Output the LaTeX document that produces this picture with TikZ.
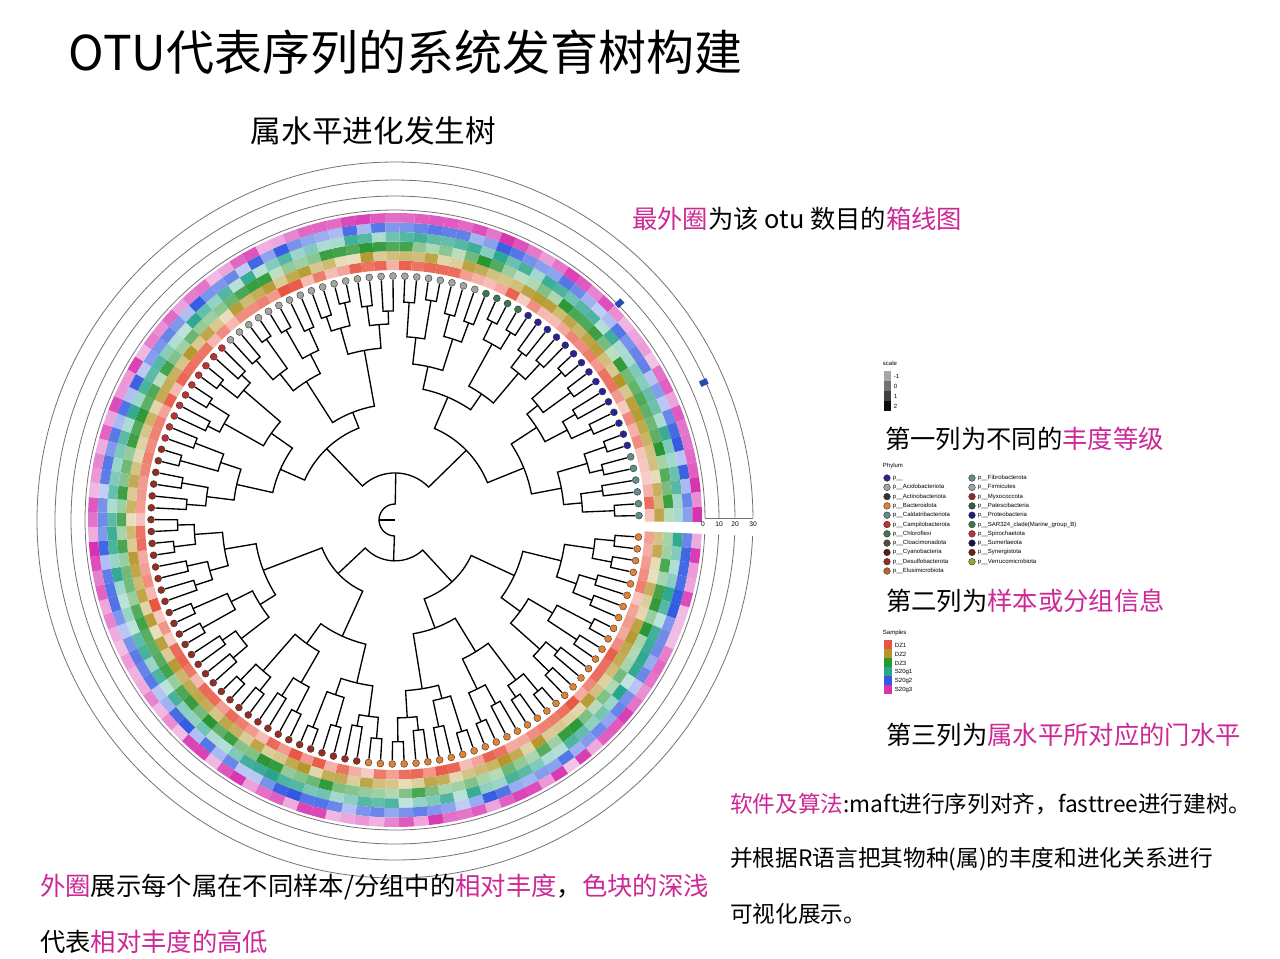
\documentclass[tikz,border=0pt]{standalone}
\usepackage{fontspec}
\newfontfamily\cjk{Noto Sans CJK SC}
\setsansfont{Liberation Sans}
\definecolor{mag}{RGB}{205,40,150}
\definecolor{dzone}{RGB}{232,85,65}
\definecolor{dztwo}{RGB}{180,150,40}
\definecolor{dzthree}{RGB}{40,150,50}
\definecolor{sgone}{RGB}{40,165,140}
\definecolor{sgtwo}{RGB}{50,90,225}
\definecolor{sgthree}{RGB}{215,50,175}
\definecolor{phorange}{RGB}{225,130,50}
\definecolor{phbrown}{RGB}{150,45,35}
\definecolor{phred}{RGB}{190,50,50}
\definecolor{phgray}{RGB}{165,165,160}
\definecolor{phgreen}{RGB}{60,120,80}
\definecolor{phnavy}{RGB}{40,35,150}
\definecolor{phteal}{RGB}{100,140,140}
\tikzset{
  tree line/.style={line width=1pt,black},
  leaf dot/.style={circle,draw=black!80,line width=0.3pt,inner sep=0pt,minimum size=5.2pt},
  scale ring/.style={draw=black!55,line width=0.6pt},
  note/.style={font=\cjk\fontsize{19}{21}\selectfont,anchor=west,inner sep=0pt},
  small note/.style={font=\cjk\fontsize{17}{19}\selectfont,anchor=west,inner sep=0pt},
  legend txt/.style={font=\sffamily\fontsize{4.5}{5}\selectfont,anchor=west,inner sep=0.5pt},
}
\newcommand{\leafcolor}[1]{%
  \ifnum#1<34 \def\lc{phorange}\else
  \ifnum#1<70 \def\lc{phbrown}\else
  \ifnum#1<80 \def\lc{phred}\else
  \ifnum#1<103 \def\lc{phgray}\else
  \ifnum#1<107 \def\lc{phgreen}\else
  \ifnum#1<122 \def\lc{phnavy}\else
  \def\lc{phteal}\fi\fi\fi\fi\fi\fi}
\begin{document}
\begin{tikzpicture}[x=0.75pt,y=-0.75pt]
\useasboundingbox[fill=white] (0,0) rectangle (1280,958);
\pgfmathsetseed{11}

% titles
\node[font=\cjk\fontsize{36}{38}\selectfont,anchor=west] (title) at (64,52) {OTU代表序列的系统发育树构建};
\node[font=\cjk\fontsize{23}{25}\selectfont,anchor=west] (subtitle) at (246,131) {属水平进化发生树};

\begin{scope}[shift={(395,520)}]
  % heatmap rings
  \foreach \col [count=\c from 0] in {dzone,dztwo,dzthree,sgone,sgtwo,sgthree} {
    \pgfmathsetmacro\ra{250+\c*9.5}
    \pgfmathsetmacro\rb{\ra+9.5}
    \foreach \j in {0,...,127} {
      \pgfmathsetmacro\a{4+\j*2.795}
      \pgfmathrandominteger\p{30}{100}
      \fill[\col!\p!white] (\a-1.4:\ra) arc[start angle=\a-1.4,end angle=\a+1.4,radius=\ra]
        -- (\a+1.4:\rb) arc[start angle=\a+1.4,end angle=\a-1.4,radius=\rb] -- cycle;
    }
  }
  % boxplot scale rings
  \foreach \r in {310,324,340,358}
    \draw[scale ring] (2.6:\r) arc[start angle=2.6,end angle=359.6,radius=\r];
  \draw[scale ring] (310,-2) -- (358,-2);
  \node[font=\sffamily\fontsize{5}{5}\selectfont] (t0) at (308,4) {0};
  \node[font=\sffamily\fontsize{5}{5}\selectfont] (t10) at (324,4) {10};
  \node[font=\sffamily\fontsize{5}{5}\selectfont] (t20) at (340,4) {20};
  \node[font=\sffamily\fontsize{5}{5}\selectfont] (t30) at (358,4) {30};
  \fill[sgtwo!80!black,rotate=44] (308,-3) rectangle (316,3);
  \fill[sgtwo!80!black,rotate=24] (334,-3) rectangle (342,3);
  % tree
  \foreach \k in {1,...,7} {
    \pgfmathtruncatemacro\n{128/2^\k-1}
    \foreach \i in {0,...,\n} {
      \pgfmathtruncatemacro\km{\k-1}
      \pgfmathtruncatemacro\ia{2*\i}
      \pgfmathtruncatemacro\ib{2*\i+1}
      \pgfmathsetmacro\rp{{240,216,192,162,128,90,50,16}[\k]+{0,7,9,11,13,14,10,0}[\k]*sin(97*\i+41*\k)}
      \pgfmathsetmacro\ra{{240,216,192,162,128,90,50,16}[\km]+{0,7,9,11,13,14,10,0}[\km]*sin(97*\ia+41*\km)}
      \pgfmathsetmacro\rb{{240,216,192,162,128,90,50,16}[\km]+{0,7,9,11,13,14,10,0}[\km]*sin(97*\ib+41*\km)}
      \pgfmathsetmacro\aa{4+(\ia*2^\km+(2^\km-1)/2)*2.795}
      \pgfmathsetmacro\ab{4+(\ib*2^\km+(2^\km-1)/2)*2.795}
      \draw[tree line] (\aa:\ra) -- (\aa:\rp) arc[start angle=\aa,end angle=\ab,radius=\rp] -- (\ab:\rb);
    }
  }
  \draw[tree line] (180:16) -- (0:0);
  % leaf dots
  \foreach \j in {0,...,127} {
    \leafcolor{\j}
    \pgfmathsetmacro\a{4+\j*2.795}
    \node[leaf dot,fill=\lc] (leaf\j) at (\a:244) {};
  }
\end{scope}

% scale legend
\node[legend txt] (scalehead) at (882,363) {scale};
\foreach \g [count=\s from 0] in {-1,0,1,2} {
  \pgfmathsetmacro\sh{35+\s*20}
  \fill[black!\sh] (884,371+\s*10) rectangle (891,381+\s*10);
  \node[legend txt] (scale\s) at (893,376+\s*10) {\g};
}
\node[note] (note1) at (885,439) {第一列为不同的\textcolor{mag}{丰度等级}};

% phylum legend
\node[legend txt] (phyhead) at (882,466) {Phylum};
\foreach \lab/\col [count=\q from 0] in {p\_\_/phnavy,p\_\_Acidobacteriota/phgray,p\_\_Actinobacteriota/black!80,p\_\_Bacteroidota/phorange,p\_\_Caldatribacteriota/phteal,p\_\_Campilobacterota/phred,p\_\_Chloroflexi/phgreen,p\_\_Cloacimonadota/black!70,p\_\_Cyanobacteria/phbrown!60!black,p\_\_Desulfobacterota/phbrown,p\_\_Elusimicrobiota/phorange!80!black} {
  \node[leaf dot,fill=\col,minimum size=5pt] (phl\q) at (887,478+\q*9.3) {};
  \node[legend txt] (phlt\q) at (892,478+\q*9.3) {\lab};
}
\foreach \lab/\col [count=\q from 0] in {p\_\_Fibrobacterota/phteal,p\_\_Firmicutes/phgray,p\_\_Myxococcota/phred!80!black,p\_\_Patescibacteria/phgreen!80!black,p\_\_Proteobacteria/phnavy!80!black,p\_\_SAR324\_clade(Marine\_group\_B)/phgreen,p\_\_Spirochaetota/phred,p\_\_Sumerlaeota/phnavy!50!black,p\_\_Synergistota/phred!60!black,p\_\_Verrucomicrobiota/phgreen!60!yellow} {
  \node[leaf dot,fill=\col,minimum size=5pt] (phr\q) at (972,478+\q*9.3) {};
  \node[legend txt] (phrt\q) at (977,478+\q*9.3) {\lab};
}
\node[note] (note2) at (886,601) {第二列为\textcolor{mag}{样本或分组信息}};

% samples legend
\node[legend txt] (samphead) at (882,633) {Samples};
\foreach \lab/\col [count=\q from 0] in {DZ1/dzone,DZ2/dztwo,DZ3/dzthree,S20g1/sgone,S20g2/sgtwo,S20g3/sgthree} {
  \fill[\col] (884,640+\q*9) rectangle (892,649+\q*9);
  \node[legend txt] (samp\q) at (894,645+\q*9) {\lab};
}
\node[note] (note3) at (886,735) {第三列为\textcolor{mag}{属水平所对应的门水平}};

% other notes
\node[note] (note0) at (632,219) {\textcolor{mag}{最外圈}为该 otu 数目的\textcolor{mag}{箱线图}};
\node[small note] (soft1) at (730,804) {\textcolor{mag}{软件及算法}:maft进行序列对齐，fasttree进行建树。};
\node[small note] (soft2) at (730,859) {并根据R语言把其物种(属)的丰度和进化关系进行};
\node[small note] (soft3) at (730,914) {可视化展示。};
\node[note] (ring1) at (40,887) {\textcolor{mag}{外圈}展示每个属在不同样本/分组中的\textcolor{mag}{相对丰度}，\textcolor{mag}{色块的深浅}};
\node[note] (ring2) at (40,942) {代表\textcolor{mag}{相对丰度的高低}};
\end{tikzpicture}
\end{document}
